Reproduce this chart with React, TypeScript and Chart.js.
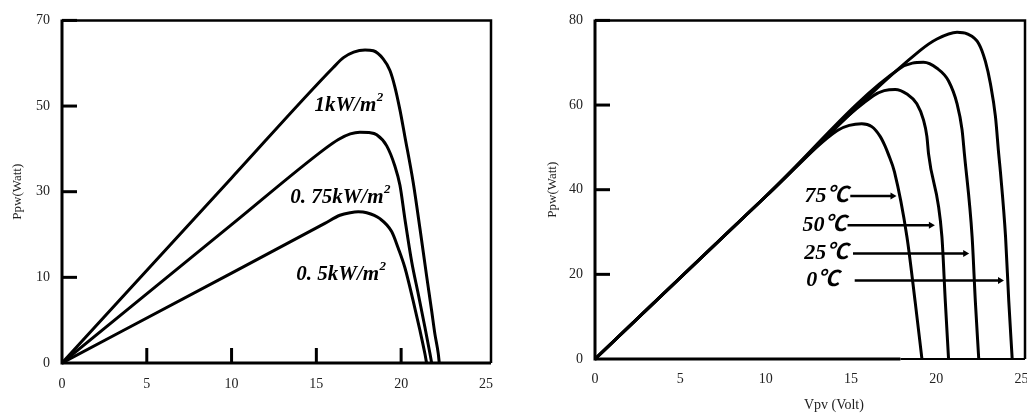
import React, { useEffect, useRef } from "react";
import { Chart, registerables } from "chart.js";
Chart.register(...registerables);

// ---------- Left chart: irradiance curves (y axis is evenly spaced with labels 0,10,30,50,70) ----------
const v1kW = [0, 10, 16.0, 16.6, 17.2, 17.87, 18.36, 18.94, 19.34, 19.63, 19.93, 20.22, 20.71, 21.11, 21.5, 21.8, 21.99, 22.19, 22.25];
const p1kW = [0, 43.2, 69.0, 71.3, 72.6, 73.1, 72.9, 71.0, 68.3, 64.5, 59.1, 52.9, 42.2, 31.4, 20.4, 12.2, 6.8, 2.2, 0];
const v075kW = [0, 10, 15.5, 16.3, 17.0, 17.57, 18.1, 18.56, 19.15, 19.63, 19.93, 20.22, 20.62, 21.01, 21.4, 21.7, 21.8];
const p075kW = [0, 32.3, 50.0, 52.2, 53.5, 53.9, 53.8, 53.3, 50.7, 46.0, 41.5, 33.7, 23.7, 16.1, 8.4, 2.2, 0];
const v05kW = [0, 10, 15.5, 16.39, 17.0, 17.47, 17.97, 18.75, 19.44, 19.83, 20.22, 20.71, 21.11, 21.4, 21.5];
const p05kW = [0, 21.0, 32.6, 34.5, 35.1, 35.3, 35.1, 33.7, 30.7, 26.8, 22.3, 14.5, 7.6, 2.2, 0];

const leftXMax = 25.3;
const leftXTickMarks = [5, 10, 15, 20];
const leftYTickValues = [0, 20, 40, 60, 80];
const leftYTickLabels = ["0", "10", "30", "50", "70"];
const leftYTickMarks = [20, 40, 60, 80];
const irrLabels = ["1kW/m", "0. 75kW/m", "0. 5kW/m"];
const irrLabelX = [16.9, 16.4, 16.45];
const irrLabelY = [60.2, 38.7, 20.7];

// ---------- Right chart: temperature curves ----------
const v0C = [0, 10, 19.06, 20.04, 21.22, 21.81, 22.49, 22.88, 23.18, 23.47, 23.66, 23.76, 24.06, 24.25, 24.45];
const p0C = [0, 38.4, 72.9, 75.6, 77.2, 76.8, 74.5, 70.3, 64.9, 57.2, 48.4, 44.2, 28.9, 13.6, 0];
const v25C = [0, 10, 17.88, 18.6, 19.25, 20.04, 20.72, 21.22, 21.51, 21.65, 22.1, 22.29, 22.49];
const p25C = [0, 38.4, 68.7, 69.9, 70.1, 68.7, 65.7, 60.3, 54.2, 48.4, 28.9, 13.6, 0];
const v50C = [0, 10, 16.31, 16.95, 17.59, 18.28, 18.86, 19.25, 19.45, 19.55, 20.33, 20.53, 20.72];
const p50C = [0, 38.4, 62.2, 63.4, 63.7, 62.6, 60.3, 56.5, 52.6, 48.4, 28.9, 13.6, 0];
const v75C = [0, 10, 14.2, 14.9, 15.63, 16.22, 16.71, 17.0, 17.19, 17.55, 18.28, 18.76, 19.16];
const p75C = [0, 38.4, 54.0, 55.2, 55.6, 54.9, 52.6, 50.3, 48.4, 44.2, 28.9, 13.6, 0];

const rightXMax = 25.2;
const rightYTickMarks = [20, 40, 60, 80];
const tempLabels = ["75℃", "50℃", "25℃", "0℃"];
const tempLabelX = [13.57, 13.45, 13.55, 13.34];
const tempLabelY = [38.5, 31.6, 24.9, 18.55];
const tempArrowStart = [14.96, 14.8, 15.12, 15.22];
const tempArrowEnd = [17.67, 19.92, 21.93, 23.97];
const rightXTitle = "Vpv (Volt)";
const rightXTitleAt = 14;
const yTitle = "Ppw(Watt)";

const toPts = (xs: number[], ys: number[]) => xs.map((x, i) => ({ x, y: ys[i] }));
const serif = '"Liberation Serif", "Times New Roman", serif';

const lineDs = (xs: number[], ys: number[]) => ({
  data: toPts(xs, ys),
  borderColor: "#000",
  borderWidth: 3,
  pointRadius: 0,
  showLine: true,
  fill: false,
  cubicInterpolationMode: "monotone" as const,
});

function drawFrame(chart: any, xMarks: number[], yMarks: number[], thickBottomTo?: number) {
  const ctx = chart.ctx;
  const { left, right, top, bottom } = chart.chartArea;
  const xs = chart.scales.x;
  const ys = chart.scales.y;
  ctx.save();
  ctx.strokeStyle = "#000";
  ctx.lineCap = "butt";
  ctx.lineWidth = 2.5;
  ctx.beginPath();
  ctx.moveTo(left, top);
  ctx.lineTo(right, top);
  ctx.lineTo(right, bottom);
  ctx.stroke();
  ctx.lineWidth = 3;
  ctx.beginPath();
  ctx.moveTo(left, top - 1);
  ctx.lineTo(left, bottom + 1.5);
  ctx.stroke();
  if (thickBottomTo !== undefined) {
    const mid = xs.getPixelForValue(thickBottomTo);
    ctx.lineWidth = 3;
    ctx.beginPath();
    ctx.moveTo(left, bottom);
    ctx.lineTo(mid, bottom);
    ctx.stroke();
    ctx.lineWidth = 2;
    ctx.beginPath();
    ctx.moveTo(mid, bottom);
    ctx.lineTo(right, bottom);
    ctx.stroke();
  } else {
    ctx.lineWidth = 3;
    ctx.beginPath();
    ctx.moveTo(left, bottom);
    ctx.lineTo(right, bottom);
    ctx.stroke();
  }
  ctx.lineWidth = 3;
  for (const v of xMarks) {
    const px = xs.getPixelForValue(v);
    ctx.beginPath();
    ctx.moveTo(px, bottom);
    ctx.lineTo(px, bottom - 15);
    ctx.stroke();
  }
  for (const v of yMarks) {
    const py = ys.getPixelForValue(v);
    ctx.beginPath();
    ctx.moveTo(left, py);
    ctx.lineTo(left + 15, py);
    ctx.stroke();
  }
  ctx.restore();
}

function LeftChart() {
  const ref = useRef<HTMLCanvasElement | null>(null);
  useEffect(() => {
    if (!ref.current) return;
    const annot = {
      id: "leftAnnot",
      afterDraw(chart: any) {
        drawFrame(chart, leftXTickMarks, leftYTickMarks);
        const ctx = chart.ctx;
        const xs = chart.scales.x;
        const ys = chart.scales.y;
        ctx.save();
        ctx.fillStyle = "#000";
        ctx.textBaseline = "middle";
        ctx.textAlign = "left";
        irrLabels.forEach((t, i) => {
          const mainFont = `italic bold 21px ${serif}`;
          const supFont = `italic bold 13px ${serif}`;
          ctx.font = mainFont;
          const w1 = ctx.measureText(t).width;
          ctx.font = supFont;
          const w2 = ctx.measureText("2").width;
          const cx = xs.getPixelForValue(irrLabelX[i]);
          const cy = ys.getPixelForValue(irrLabelY[i]);
          const x0 = cx - (w1 + w2) / 2;
          ctx.font = mainFont;
          ctx.fillText(t, x0, cy);
          ctx.font = supFont;
          ctx.fillText("2", x0 + w1 + 0.5, cy - 8);
        });
        ctx.restore();
      },
    };
    const chart = new Chart(ref.current, {
      type: "scatter",
      data: {
        datasets: [lineDs(v1kW, p1kW), lineDs(v075kW, p075kW), lineDs(v05kW, p05kW)] as any,
      },
      options: {
        animation: false,
        responsive: true,
        maintainAspectRatio: false,
        layout: { padding: { top: 16, right: 29, left: 0, bottom: 0 } },
        plugins: { legend: { display: false }, tooltip: { enabled: false } },
        scales: {
          x: {
            type: "linear",
            min: 0,
            max: leftXMax,
            grid: { display: false, drawTicks: false },
            border: { display: false },
            ticks: {
              stepSize: 5,
              includeBounds: false,
              padding: 13,
              maxRotation: 0,
              color: "#222",
              font: { family: serif, size: 14 },
            },
            afterFit: (s: any) => {
              s.height = 53;
            },
          },
          y: {
            type: "linear",
            min: 0,
            max: 80,
            grid: { display: false, drawTicks: false },
            border: { display: false },
            afterBuildTicks: (s: any) => {
              s.ticks = leftYTickValues.map((v) => ({ value: v }));
            },
            ticks: {
              padding: 12,
              color: "#222",
              font: { family: serif, size: 14 },
              callback: (v: any) => {
                const i = leftYTickValues.indexOf(Number(v));
                return i >= 0 ? leftYTickLabels[i] : "";
              },
            },
            title: {
              display: true,
              text: yTitle,
              color: "#222",
              font: { family: serif, size: 13 },
              padding: { top: 10, bottom: 0 },
            },
            afterFit: (s: any) => {
              s.width = 62;
            },
          },
        },
      } as any,
      plugins: [annot],
    });
    return () => chart.destroy();
  }, []);
  return (
    <div style={{ position: "absolute", left: 0, top: 0, width: 520, height: 416 }}>
      <canvas ref={ref} />
    </div>
  );
}

function RightChart() {
  const ref = useRef<HTMLCanvasElement | null>(null);
  useEffect(() => {
    if (!ref.current) return;
    const annot = {
      id: "rightAnnot",
      afterDraw(chart: any) {
        drawFrame(chart, [], rightYTickMarks, 17.9);
        const ctx = chart.ctx;
        const xs = chart.scales.x;
        const ys = chart.scales.y;
        ctx.save();
        ctx.fillStyle = "#000";
        ctx.strokeStyle = "#000";
        ctx.textBaseline = "middle";
        ctx.textAlign = "center";
        ctx.font = `italic bold 22px ${serif}, "Noto Sans CJK SC"`;
        tempLabels.forEach((t, i) => {
          const cx = xs.getPixelForValue(tempLabelX[i]);
          const cy = ys.getPixelForValue(tempLabelY[i]);
          ctx.fillText(t, cx, cy);
          const ax1 = xs.getPixelForValue(tempArrowStart[i]);
          const ax2 = xs.getPixelForValue(tempArrowEnd[i]);
          ctx.lineWidth = 2.5;
          ctx.beginPath();
          ctx.moveTo(ax1, cy);
          ctx.lineTo(ax2 - 4, cy);
          ctx.stroke();
          ctx.beginPath();
          ctx.moveTo(ax2, cy);
          ctx.lineTo(ax2 - 6, cy - 3.5);
          ctx.lineTo(ax2 - 6, cy + 3.5);
          ctx.closePath();
          ctx.fill();
        });
        ctx.font = `14px ${serif}`;
        ctx.fillStyle = "#222";
        ctx.textAlign = "center";
        ctx.textBaseline = "middle";
        ctx.fillText(rightXTitle, xs.getPixelForValue(rightXTitleAt), chart.chartArea.bottom + 46);
        ctx.restore();
      },
    };
    const chart = new Chart(ref.current, {
      type: "scatter",
      data: {
        datasets: [lineDs(v0C, p0C), lineDs(v25C, p25C), lineDs(v50C, p50C), lineDs(v75C, p75C)] as any,
      },
      options: {
        animation: false,
        responsive: true,
        maintainAspectRatio: false,
        layout: { padding: { top: 11, right: 55, left: 0, bottom: 0 } },
        plugins: { legend: { display: false }, tooltip: { enabled: false } },
        scales: {
          x: {
            type: "linear",
            min: 0,
            max: rightXMax,
            grid: { display: false, drawTicks: false },
            border: { display: false },
            ticks: {
              stepSize: 5,
              includeBounds: false,
              padding: 12,
              maxRotation: 0,
              color: "#222",
              font: { family: serif, size: 14 },
            },
            afterFit: (s: any) => {
              s.height = 57;
            },
          },
          y: {
            type: "linear",
            min: 0,
            max: 80,
            grid: { display: false, drawTicks: false },
            border: { display: false },
            ticks: {
              stepSize: 20,
              padding: 12,
              color: "#222",
              font: { family: serif, size: 14 },
            },
            title: {
              display: true,
              text: yTitle,
              color: "#222",
              font: { family: serif, size: 13 },
              padding: { top: 25, bottom: 0 },
            },
            afterFit: (s: any) => {
              s.width = 75;
            },
          },
        },
      } as any,
      plugins: [annot],
    });
    return () => chart.destroy();
  }, []);
  return (
    <div style={{ position: "absolute", left: 520, top: 0, width: 560, height: 416 }}>
      <canvas ref={ref} />
    </div>
  );
}

export default function App() {
  return (
    <div
      style={{
        position: "absolute",
        left: 0,
        top: 0,
        width: 1027,
        height: 416,
        overflow: "hidden",
        background: "#fff",
      }}
    >
      <LeftChart />
      <RightChart />
    </div>
  );
}
